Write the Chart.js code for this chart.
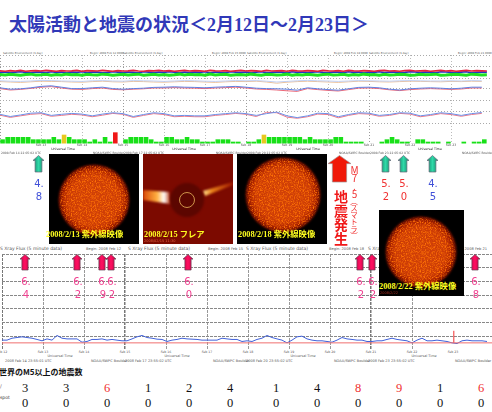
<!DOCTYPE html>
<html lang="ja">
<head>
<meta charset="UTF-8">
<title>太陽活動と地震の状況</title>
<script src="https://cdn.jsdelivr.net/npm/chart.js"></script>
<style>
  html, body { margin: 0; padding: 0; background: #fff; }
  #page { position: relative; width: 492px; height: 412px; overflow: hidden; }
  #page canvas, #page svg { position: absolute; }
  .t { position: absolute; white-space: nowrap; line-height: 1; transform: translateY(-50%); }
  .c { transform: translate(-50%, -50%); }
  .small { font-family: "DejaVu Sans", sans-serif; color: #555; }
  .num { font-family: "DejaVu Sans", sans-serif; font-size: 10px; }
  .cnt { font-family: "Liberation Serif", serif; font-size: 12.5px; }
  .cap { font-family: "Liberation Serif", "Noto Sans CJK JP", serif; font-weight: bold; font-size: 8.3px; color: #ffff20; }
</style>
</head>
<body>
<div id="page"></div>
<script>
// --- data ---
const dayLabelsTop = ['Feb 13','Feb 14','Feb 15','Feb 16','Feb 17','Feb 18','Feb 19','Feb 20','Feb 21','Feb 22','Feb 23'];
const dayLabelsXray = ['Feb 12','Feb 13','Feb 14','Feb 15','Feb 16','Feb 17','Feb 18','Feb 19','Feb 20','Feb 21','Feb 22','Feb 23'];

// electrons / protons band, 8 samples per day
const satRed = [28,26,29,27,30,26,28,29,27,30,28,26,29,27,28,30,26,29,28,27,30,28,26,29,27,28,30,27,26,29,28,30,
  27,29,26,28,30,27,29,28,26,30,28,27,29,26,28,30,27,29,28,26,30,27,28,29,26,30,28,27,29,28,26,30,
  28,27,29,26,30,28,27,29,28,26,29,30,27,28,26,29,30,27,28,29,26,28,30,27,29,26,28,30,27,29,28,27];
const satBlue = [21,23,20,22,24,21,19,23,22,20,24,21,23,19,22,21,24,20,22,23,19,21,24,22,20,23,21,19,24,22,20,23,
  21,24,22,19,23,20,22,21,24,19,23,21,20,24,22,21,23,19,22,24,20,21,23,22,19,24,21,23,20,22,24,21,
  19,23,22,20,24,21,23,19,22,21,24,20,23,22,19,21,24,23,20,22,21,19,24,23,21,20,22,24,19,21,23,22];
const satGreen = [11,9,12,10,8,11,13,9,10,12,8,11,9,13,10,11,8,12,10,9,13,11,8,10,12,9,11,13,8,10,12,9,
  11,8,10,13,9,12,10,11,8,13,9,11,12,8,10,11,9,13,10,8,12,11,9,10,13,8,11,9,12,10,8,11,
  13,9,10,12,8,11,9,13,10,11,8,12,9,10,13,11,8,9,12,10,11,13,8,9,11,12,10,8,13,11,9,10];

// magnetometer panel, 4 samples per day
const hpOrange = [82,80,78,81,84,83,82,80,79,82,84,81,80,83,82,80,79,81,83,82,80,78,81,83,
  82,84,80,74,79,82,84,82,80,78,81,84,83,81,80,82,84,83,82,81,83,82,84,83];
const hpPale = [86,84,83,85,88,87,85,84,83,86,87,85,84,87,86,85,83,85,87,86,84,83,85,87,
  86,87,84,80,83,86,88,86,85,83,85,87,86,85,84,86,87,86,85,85,86,85,87,86];
const hpBlue = [51,44,46,51,58,61,54,47,47,51,54,47,44,47,49,53,54,56,54,53,51,54,56,58,
  54,49,47,46,44,39,51,46,42,39,46,53,54,51,44,40,46,49,51,49,46,49,54,54];
const hpRed = [47,40,43,48,54,57,50,44,43,47,50,43,41,44,46,50,50,52,50,49,47,50,52,54,
  50,45,43,40,36,33,47,42,38,35,42,49,50,47,41,37,42,45,47,45,43,45,50,50];

const magBlue = [35,25,32,40,42,30,35,39,36,28,36,42,38,25,34,42,38,28,30,28,28,34,38,42,
  38,30,38,45,28,20,28,40,38,24,34,42,40,30,34,42,40,28,34,42,38,30,38,43];
const magRed = [31,21,28,35,38,26,30,35,32,24,31,39,35,21,30,38,34,24,26,24,24,30,34,39,
  35,25,44,42,22,17,24,36,34,19,30,38,36,26,30,39,36,24,30,38,34,26,34,39];

// planetary K index, 8 bars per day
const kpValues = [2,3,3,3,3,3,2,2,2,2,3,2,4,3,2,2,2,1,2,1,3,1,5,0,
  2,3,3,3,3,2,1,1,3,3,2,2,3,2,2,1,1,1,2,2,2,1,1,0,
  1,1,2,4,3,3,3,3,3,3,3,2,3,2,2,2,2,3,3,1,1,1,1,0,
  0,0,1,2,3,2,1,1,0,2,2,1,1,1,0,1,0,0,1,0,1,1,2,0];
const kpYellowAt = 4;
const kpRedAt = 5;

// log10 of xray flux, one sample every 5 px of the picture
const xrayLog = [-8.28,-8.28,-8.14,-8.09,-8.04,-8.09,-8.14,-8.23,-8.33,-8.19,-8.28,-7.94,-8.14,-8.19,-8.19,-8.19,-8.43,-8.38,-8.23,-8.23,-8.19,-8.28,-8.23,-8.28,-8.33,
  -8.33,-8.19,-8.04,-7.94,-8.09,-8.14,-8.21,-8.23,-8.38,-8.28,-8.23,-8.14,-8.19,-8.21,-8.23,-8.28,-8.28,-8.28,-8.28,-8.14,-8.19,-8.23,-8.23,-8.38,
  -8.33,-8.38,-8.23,-8.14,-7.94,-8.09,-8.19,-8.28,-8.48,-8.28,-8.04,-7.99,-8.19,-8.28,-8.33,-8.33,-8.38,-8.43,-8.28,-8.09,-8.19,-8.23,-8.28,-8.28,
  -8.38,-8.38,-8.33,-8.33,-8.23,-8.14,-8.23,-8.28,-8.33,-8.48,-8.28,-8.14,-8.33,-8.33,-8.28,-8.33,-8.38,-8.48,-8.53,-8.33,-8.28,-8.33,-8.33,-8.33,-8.38];
const xrayBase = [-8.48,-8.48,-8.48,-8.48,-8.48,-8.48,-8.48,-8.48,-8.48,-8.48,-8.48,-8.48,-8.48];
const flareDay = [11.02, 11.02];
const flareLog = [-8.48, -7.6];

// earthquakes and sunspots per day
const quakeCounts = [3,3,6,1,2,4,1,4,8,9,1,6];
const spotCounts = [0,0,0,0,0,0,0,0,0,0,0,0];
const redCountFrom = 6;

const pinkQuakes = ['6.4','6.2','6.9','6.2','6.0','6.2','6.2','6.8'];
const greenQuakes = ['4.8','5.2','5.0','4.5'];
const greenQuakeColors = ['#4050d8','#f03030','#f03030','#4050d8'];

// --- layout of the page ---
const page = document.getElementById('page');
const pinkX = [25,77,102,111,188,360,372,475];
const greenX = [38,385,403,432];
const countX = [25,66,107,148,189,230,276,317,358,399,440,481];

function text(str, x, y, size, color, cls, center) {
  const el = document.createElement('div');
  el.className = 't ' + (cls || '') + (center ? ' c' : '');
  el.textContent = str;
  el.style.left = x + 'px';
  el.style.top = y + 'px';
  if (size) el.style.fontSize = size + 'px';
  if (color) el.style.color = color;
  page.appendChild(el);
  return el;
}

function addCanvas(left, top, w, h) {
  const c = document.createElement('canvas');
  c.width = w; c.height = h;
  c.style.left = left + 'px';
  c.style.top = top + 'px';
  c.style.width = w + 'px';
  c.style.height = h + 'px';
  page.appendChild(c);
  return c.getContext('2d');
}

const perDay = (arr, n) => arr.map((v, i) => ({ x: i / n, y: v }));

function line(data, color, width) {
  return { data, borderColor: color, borderWidth: width, pointRadius: 0, tension: 0 };
}

function baseOptions(ySteps, yMin, yMax) {
  return {
    responsive: false,
    animation: false,
    events: [],
    devicePixelRatio: 1,
    layout: { padding: 0 },
    plugins: { legend: { display: false }, tooltip: { enabled: false } },
    scales: {
      x: {
        type: 'linear', min: 0, max: 12,
        ticks: { display: false, stepSize: 1 },
        border: { display: false, dash: [1, 2] },
        grid: {
          drawTicks: false,
          color: c => (c.tick && c.tick.value % 3 === 0) ? '#999' : '#bbb'
        }
      },
      y: {
        min: yMin, max: yMax,
        ticks: { display: false, stepSize: ySteps },
        border: { display: false, dash: [1, 2] },
        grid: { drawTicks: false, color: '#aaa' }
      }
    }
  };
}

function strip(top, h, datasets, step) {
  new Chart(addCanvas(0, top, 492, h), { type: 'line', data: { datasets }, options: baseOptions(step, 0, 100) });
}

strip(55, 22, [
  line(perDay(satGreen, 8), '#20e020', 3),
  line(perDay(satRed, 8), '#e8203c', 1.6),
  line(perDay(satBlue, 8), '#2434c4', 1.6)
], 50);
strip(78, 20, [
  line(perDay(hpPale, 4), '#c0d0f4', 1),
  line(perDay(hpOrange, 4), '#ecc098', 1),
  line(perDay(hpBlue, 4), '#6080e0', 1),
  line(perDay(hpRed, 4), '#ec6878', 1)
], 50);
strip(100, 22, [
  line(perDay(magBlue, 4), '#6c90e8', 1),
  line(perDay(magRed, 4), '#ec7888', 1)
], 50);

// Kp bars
const kpOptions = baseOptions(1, 0, 9);
kpOptions.scales.x = {
  type: 'category', offset: true,
  ticks: { display: false, autoSkip: false },
  border: { display: false, dash: [1, 2] },
  grid: {
    offset: true, drawTicks: false,
    color: c => c.index % 24 === 0 ? '#999' : (c.index % 8 === 0 ? '#bbb' : 'transparent')
  }
};
kpOptions.scales.y.ticks.stepSize = 9;
new Chart(addCanvas(0, 123, 492, 21), {
  type: 'bar',
  data: {
    labels: kpValues.map((v, i) => i),
    datasets: [{
      data: kpValues,
      barPercentage: 0.9, categoryPercentage: 1,
      backgroundColor: kpValues.map(v => v >= kpRedAt ? '#f01818' : (v === kpYellowAt ? '#e8c820' : '#18e018'))
    }]
  },
  options: kpOptions
});

// xray flux
const xrayOptions = baseOptions(1, -9, -2);
const strongDay = c => c.tick && (c.tick.value === 3 || c.tick.value === 9);
xrayOptions.scales.x.max = 490 / 41;
xrayOptions.scales.x.grid.color = c => (strongDay(c) || (c.tick && c.tick.value === 0)) ? '#777' : '#999';
xrayOptions.scales.x.grid.lineWidth = c => strongDay(c) ? 1.5 : 1;
xrayOptions.scales.x.border = { display: false, dash: [3, 1] };
xrayOptions.scales.y.grid.color = c => (c.tick && c.tick.value === -9) ? '#555' : '#888';
xrayOptions.scales.y.border = { display: false, dash: [3, 1] };
new Chart(addCanvas(2, 254, 490, 96), {
  type: 'line',
  data: {
    datasets: [
      line(perDay(xrayBase, 1), '#f07070', 1),
      line(flareDay.map((d, i) => ({ x: d, y: flareLog[i] })), '#f03030', 1),
      line(perDay(xrayLog, 8.2), '#4060d8', 1)
    ]
  },
  options: xrayOptions
});

// --- title and small print ---
const title = text('', 9, 24, 18, '#3038b8');
title.style.fontFamily = '"Noto Sans CJK JP", sans-serif';
title.style.fontWeight = '700';
title.innerHTML = '太陽活動と地震の状況＜<span style="font-family:\'Liberation Serif\'">2</span>月<span style="font-family:\'Liberation Serif\'">12</span>日～<span style="font-family:\'Liberation Serif\'">2</span>月<span style="font-family:\'Liberation Serif\'">23</span>日＞';

const topBegin = ['Feb 12','Feb 15','Feb 18','Feb 21'];
const topHeadX = [3, 123, 247, 369];
const topBeginX = [90, 212, 334, 458];
topHeadX.forEach((x, i) => {
  text('Satellite Environment (3 day)', x, 53, 2.7, null, 'small');
  text('Begin: 2008 ' + topBegin[i] + ' 0000', topBeginX[i], 53, 2.7, null, 'small');
});
dayLabelsTop.forEach((d, i) => text(d, 41 * (i + 1), 146, 3.2, null, 'small', true));
[63, 184, 308, 430].forEach(x => text('Universal Time', x, 149.5, 3.2, '#222', 'small', true));
[0, 123, 246, 369].forEach((x, i) => {
  text('2008 Feb ' + [14, 17, 20, 23][i] + ' 22:05:02 UTC', x + 1, 153, 3, null, 'small');
  text('NOAA/SWPC Boulder,', x + 93, 153, 3, null, 'small');
});

[0, 128, 246, 368].forEach(x => text('S Xray Flux (5 minute data)', x, 249, 4.5, null, 'small'));
[86, 208, 329, 452].forEach((x, i) => text('Begin: 2008 ' + topBegin[i], x, 249.5, 3.6, null, 'small'));
dayLabelsXray.forEach((d, i) => text(d, 2 + 41 * i, 353, 3.2, null, 'small', true));
[60, 177, 303, 424].forEach(x => text('Universal Time', x, 357, 3.4, null, 'small', true));
[5, 125, 246, 368].forEach((x, i) => text('2008 Feb ' + [14, 17, 20, 23][i] + ' 23:55:0' + (i ? 2 : 1) + ' UTC', x, 362, 3.5, null, 'small'));
[91, 213, 334, 455].forEach(x => text('NOAA/SWPC Boulder', x, 362, 3.5, null, 'small'));

// --- solar images ---
function svg(left, top, w, h, inner) {
  const holder = document.createElement('div');
  holder.innerHTML = '<svg xmlns="http://www.w3.org/2000/svg" width="' + w + '" height="' + h + '" style="left:' + left + 'px;top:' + top + 'px">' + inner + '</svg>';
  page.appendChild(holder.firstChild);
}

svg(0, 0, 1, 1, `
  <defs>
    <radialGradient id="sunFill">
      <stop offset="0" stop-color="#d04008"/><stop offset="0.75" stop-color="#cc3c06"/>
      <stop offset="0.93" stop-color="#a82000"/><stop offset="1" stop-color="#701000"/>
    </radialGradient>
    <filter id="grain" x="-10%" y="-10%" width="120%" height="120%" color-interpolation-filters="sRGB">
      <feGaussianBlur in="SourceGraphic" stdDeviation="0.8" result="soft"/>
      <feTurbulence type="fractalNoise" baseFrequency="0.8" numOctaves="2" seed="4" result="n"/>
      <feColorMatrix in="n" type="matrix" values="0 0 0 0 1  0 0 0 0 0.45  0 0 0 0 0.02  3 0 0 0 -1.3" result="spots"/>
      <feComposite in="spots" in2="soft" operator="in" result="clipped"/>
      <feMerge><feMergeNode in="soft"/><feMergeNode in="clipped"/></feMerge>
    </filter>
    <linearGradient id="streakL" x1="0" x2="1"><stop offset="0" stop-color="#d84808"/><stop offset="0.5" stop-color="#ffb040"/><stop offset="0.75" stop-color="#fff"/><stop offset="1" stop-color="#b02800"/></linearGradient>
    <linearGradient id="streakR" x1="0" x2="1"><stop offset="0" stop-color="#ffe090"/><stop offset="0.3" stop-color="#e88018"/><stop offset="1" stop-color="#a01800"/></linearGradient>
    <linearGradient id="teal" x1="0" x2="1"><stop offset="0" stop-color="#108868"/><stop offset="0.5" stop-color="#30d8a8"/><stop offset="1" stop-color="#108868"/></linearGradient>
    <linearGradient id="crimson" x1="0" x2="1"><stop offset="0" stop-color="#d00050"/><stop offset="0.5" stop-color="#ff1060"/><stop offset="1" stop-color="#c00048"/></linearGradient>
    <filter id="blur2" color-interpolation-filters="sRGB"><feGaussianBlur stdDeviation="1.2"/></filter>
  </defs>`);

function sunPanel(x, y, w, h, cx, cy, r) {
  svg(x, y, w, h, `<rect width="${w}" height="${h}" fill="#000"/>
    <circle cx="${cx}" cy="${cy}" r="${r + 1.5}" fill="#701000" filter="url(#blur2)"/>
    <circle cx="${cx}" cy="${cy}" r="${r}" fill="url(#sunFill)" filter="url(#grain)"/>`);
}
sunPanel(49, 154, 90, 90, 45, 46, 34);
sunPanel(237, 154, 90, 90, 46, 41, 36);
sunPanel(379, 210, 85, 86, 42, 42, 34);

// coronagraph frame
svg(143, 154, 90, 90, `<rect width="90" height="90" fill="#7c0a00"/>
  <path d="M0 36 L26 38 L28 50 L0 46 Z" fill="url(#streakL)" filter="url(#blur2)"/>
  <path d="M60 37 L90 28 L90 31 L62 42 Z" fill="url(#streakR)" filter="url(#blur2)"/>
  <circle cx="44" cy="46" r="17" fill="#5c0600" filter="url(#blur2)"/>
  <circle cx="44" cy="46" r="7.5" fill="none" stroke="#d8a050" stroke-width="0.9"/>`);

text('2008/2/13 紫外線映像', 46, 235, null, null, 'cap');
text('2008/2/15 フレア', 144, 235, null, null, 'cap');
text('2008/2/18 紫外線映像', 238, 235, null, null, 'cap');
text('2008/2/22 紫外線映像', 379, 287, null, null, 'cap');
text('2008/02/15 11:30', 144, 242, 3.5, '#e06040', 'small');
text('2008/2/22', 380, 294, 3.5, '#b03020', 'small');

// --- arrows ---
function arrow(cx, top, w, h, fill, stroke) {
  const a = w * 0.31, head = h * 0.32;
  svg(cx - w / 2, top, w + 1, h + 1, `<polygon points="${w / 2},0.5 ${w},${head} ${w / 2 + a},${head} ${w / 2 + a},${h} ${w / 2 - a},${h} ${w / 2 - a},${head} 0,${head}" fill="${fill}" stroke="${stroke}" stroke-width="0.7"/>`);
}
greenX.forEach(x => arrow(x, 155, 11, 17, 'url(#teal)', '#667'));
pinkX.forEach(x => arrow(x, 254, 10, 16, 'url(#crimson)', '#604050'));
arrow(339, 155, 23, 27, '#f01808', '#a09090');

// --- numbers beside the arrows ---
pinkQuakes.forEach((q, i) => {
  text(q.slice(0, 2), pinkX[i] + 1, 282, null, '#f04090', 'num', true);
  text(q.slice(2), pinkX[i] + 1, 295, null, '#f04090', 'num', true);
});
greenQuakes.forEach((q, i) => {
  text(q.slice(0, 2), greenX[i] + 1, 184, null, greenQuakeColors[i], 'num', true);
  text(q.slice(2), greenX[i] + 1, 197, null, greenQuakeColors[i], 'num', true);
});

// vertical captions
const vertical = 'writing-mode:vertical-rl;transform:none;font-family:"Noto Sans CJK JP",sans-serif;';
const m75 = text('M7.5', 0, 0, 10, '#f03030');
m75.style.cssText += vertical + 'text-orientation:upright;top:165px;left:349px;font-weight:400;letter-spacing:-2px;';
const sumatra = text('（スマトラ）', 0, 0, 7.5, '#f03030');
sumatra.style.cssText += vertical + 'top:197px;left:350px;font-weight:400;letter-spacing:-0.5px;';
const hassei = text('地震発生', 0, 0, 14, '#f01818');
hassei.style.cssText += vertical + 'top:190px;left:334px;font-weight:700;letter-spacing:0;';

// --- bottom table ---
const head = text('世界のM5以上の地震数', -1, 372, 8, '#111');
head.style.fontFamily = '"Noto Sans CJK JP",serif';
head.style.fontWeight = '700';
text('spot', 0, 398, 4.5, '#333', 'small');
text('/', 0, 386, 5, '#666', 'small');
quakeCounts.forEach((n, i) => {
  text(String(n), countX[i], 388, null, n >= redCountFrom ? '#f03030' : '#111', 'cnt', true);
  text(String(spotCounts[i]), countX[i], 403, null, '#111', 'cnt', true);
});
</script>
</body>
</html>
